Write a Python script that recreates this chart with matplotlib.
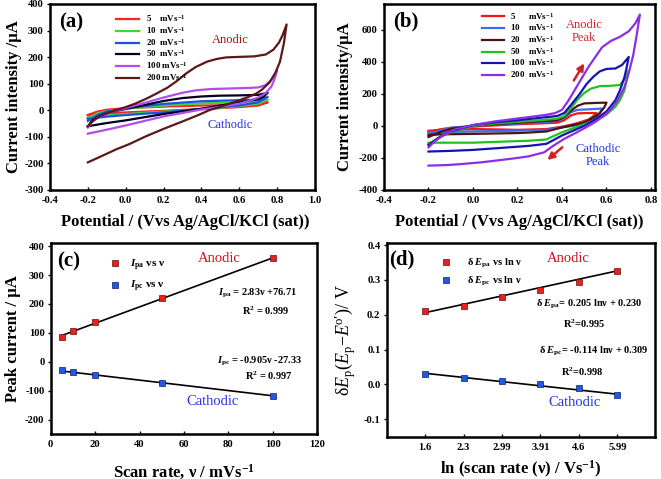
import matplotlib
matplotlib.use('Agg')
from matplotlib.figure import Figure

matplotlib.rcParams['font.family'] = ['Liberation Serif', 'DejaVu Serif']
matplotlib.rcParams['font.weight'] = 'bold'
matplotlib.rcParams['mathtext.fontset'] = 'custom'
matplotlib.rcParams['mathtext.rm'] = 'Liberation Serif:bold'
matplotlib.rcParams['mathtext.bf'] = 'Liberation Serif:bold'
matplotlib.rcParams['mathtext.it'] = 'Liberation Serif:italic:bold'
matplotlib.rcParams['mathtext.sf'] = 'Liberation Serif:weight=normal'
matplotlib.rcParams['mathtext.cal'] = 'Liberation Serif:italic:weight=normal'

# ---------------- panel (a): CV at several scan rates ----------------
a_colors = ['#ff2020', '#3cd43c', '#2050e8', '#00001e', '#b04cf0', '#5c1818']

a_E_5 = [-0.2, -0.15, -0.1, 0.0, 0.2, 0.4, 0.6, 0.7, 0.75, 0.7, 0.6, 0.4, 0.2, 0.0, -0.1, -0.2]
a_I_5 = [-18, -5, 2, 8, 14, 18, 20, 22, 30, 18, 12, 5, -2, -8, -12, -18]
a_E_10 = [-0.2, -0.15, -0.1, 0.0, 0.2, 0.4, 0.6, 0.7, 0.75, 0.7, 0.6, 0.4, 0.2, 0.0, -0.1, -0.2]
a_I_10 = [-30, -12, -3, 6, 18, 26, 30, 32, 40, 25, 15, 4, -5, -14, -20, -28]
a_E_20 = [-0.2, -0.15, -0.1, 0.0, 0.2, 0.4, 0.6, 0.7, 0.75, 0.7, 0.6, 0.4, 0.2, 0.0, -0.1, -0.2]
a_I_20 = [-40, -18, -5, 8, 24, 34, 38, 40, 50, 30, 18, 5, -8, -18, -24, -32]
a_E_50 = [-0.2, -0.18, -0.15, -0.1, 0.0, 0.1, 0.2, 0.3, 0.4, 0.5, 0.6, 0.7, 0.75,
          0.73, 0.7, 0.6, 0.5, 0.4, 0.3, 0.2, 0.1, 0.0, -0.1, -0.2]
a_I_50 = [-62, -40, -25, -10, 5, 20, 35, 46, 52, 55, 56, 58, 66,
          52, 42, 30, 18, 6, -4, -14, -26, -38, -48, -60]
a_E_100 = [-0.2, -0.18, -0.15, -0.1, -0.05, 0.0, 0.1, 0.2, 0.3, 0.37, 0.45, 0.55, 0.65,
           0.7, 0.74, 0.77, 0.8,
           0.785, 0.77, 0.74, 0.7, 0.65, 0.6, 0.5, 0.4, 0.3, 0.2, 0.1, 0.0, -0.1, -0.2]
a_I_100 = [-65, -45, -28, -12, -2, 8, 28, 48, 66, 75, 80, 82, 84,
           86, 95, 115, 150,
           115, 90, 65, 48, 35, 25, 13, 3, -10, -23, -40, -57, -73, -88]
a_E_200 = [-0.2, -0.17, -0.13, -0.07, 0.0, 0.05, 0.11, 0.16, 0.22, 0.27, 0.32, 0.37,
           0.43, 0.48, 0.53, 0.6, 0.68, 0.74, 0.78, 0.81, 0.83, 0.85,
           0.835, 0.815, 0.79, 0.76, 0.72, 0.69, 0.64, 0.6, 0.55, 0.5, 0.44, 0.38,
           0.3, 0.2, 0.1, 0.02, -0.05, -0.12, -0.2]
a_I_200 = [-60, -38, -20, -4, 12, 25, 44, 62, 85, 110, 139, 163,
           183, 193, 199, 201, 203, 210, 228, 255, 285, 323,
           250, 183, 140, 105, 78, 63, 48, 38, 25, 13, 0, -19,
           -42, -70, -100, -127, -147, -170, -196]

# ---------------- panel (b): CV at several scan rates ----------------
b_colors = ['#f81414', '#3a6ef2', '#4e1414', '#22c022', '#1414b4', '#8c2ee6']

b_E_5 = [-0.2, -0.15, -0.1, 0.0, 0.1, 0.2, 0.3, 0.38, 0.41, 0.44, 0.47, 0.51, 0.555,
         0.54, 0.52, 0.48, 0.45, 0.4, 0.33, 0.2, 0.1, 0.0, -0.1, -0.2]
b_I_5 = [-40, -22, -12, -5, 3, 10, 15, 20, 35, 65, 78, 80, 80,
         60, 40, 22, 10, -5, -20, -25, -22, -20, -25, -30]
b_E_10 = [-0.2, -0.15, -0.1, 0.0, 0.1, 0.2, 0.3, 0.38, 0.41, 0.44, 0.47, 0.52, 0.58,
          0.57, 0.55, 0.52, 0.5, 0.45, 0.4, 0.33, 0.2, 0.0, -0.2]
b_I_10 = [-60, -30, -12, 0, 8, 15, 22, 30, 50, 85, 100, 103, 108,
          80, 50, 28, 15, 0, -10, -25, -30, -35, -40]
b_E_20 = [-0.2, -0.15, -0.1, 0.0, 0.1, 0.2, 0.3, 0.38, 0.41, 0.44, 0.47, 0.5, 0.55, 0.6,
          0.59, 0.57, 0.55, 0.52, 0.5, 0.45, 0.4, 0.33, 0.25, 0.2, 0.0, -0.1, -0.2]
b_I_20 = [-70, -40, -18, 0, 10, 20, 28, 35, 55, 95, 125, 140, 143, 145,
          115, 80, 60, 35, 20, 5, -10, -35, -42, -45, -50, -52, -55]
b_E_50 = [-0.2, -0.15, -0.1, 0.0, 0.1, 0.2, 0.3, 0.38, 0.41, 0.44, 0.47, 0.5, 0.53,
          0.57, 0.62, 0.66, 0.68, 0.7,
          0.69, 0.68, 0.66, 0.64, 0.6, 0.55, 0.5, 0.45, 0.4, 0.36, 0.33, 0.25, 0.2,
          0.1, 0.0, -0.2]
b_I_50 = [-115, -70, -40, 0, 15, 25, 35, 45, 60, 110, 165, 205, 232,
          248, 250, 255, 290, 345,
          280, 220, 160, 120, 70, 35, 10, -15, -40, -65, -85, -93, -95,
          -100, -105, -105]
b_E_100 = [-0.2, -0.15, -0.1, 0.0, 0.1, 0.2, 0.3, 0.38, 0.41, 0.44, 0.48, 0.51, 0.54,
           0.57, 0.6, 0.64, 0.67, 0.7,
           0.69, 0.68, 0.66, 0.64, 0.6, 0.55, 0.5, 0.45, 0.4, 0.36, 0.33, 0.25, 0.2,
           0.1, 0.0, -0.1, -0.2]
b_I_100 = [-120, -70, -35, 5, 22, 35, 50, 62, 80, 130, 200, 260, 305,
           340, 355, 358, 380, 430,
           360, 300, 220, 160, 90, 40, 0, -30, -60, -90, -112, -125, -130,
           -140, -150, -156, -160]
b_E_200 = [-0.2, -0.17, -0.13, -0.08, 0.0, 0.1, 0.19, 0.27, 0.33, 0.37, 0.4, 0.43,
           0.46, 0.49, 0.52, 0.55, 0.58, 0.62, 0.66, 0.7, 0.73, 0.75,
           0.735, 0.72, 0.7, 0.68, 0.65, 0.62, 0.59, 0.55, 0.51, 0.46, 0.41, 0.36,
           0.32, 0.25, 0.19, 0.1, 0.04, -0.05, -0.11, -0.2]
b_I_200 = [-134, -95, -55, -22, 5, 28, 44, 58, 69, 80, 100, 160,
           230, 300, 370, 430, 490, 530, 555, 590, 640, 694,
           560, 440, 330, 240, 160, 105, 64, 25, -8, -45, -81, -125,
           -165, -190, -202, -217, -227, -238, -244, -248]

# ---------------- panel (c): peak current vs scan rate ----------------
scan_rate = [5, 10, 20, 50, 100]
I_pa = [86, 105, 137, 220, 358]
I_pc = [-30, -35, -46, -75, -117]
fit_rate = [5, 100]
fit_pa = [90.9, 359.7]
fit_pc = [-31.9, -117.8]

# ---------------- panel (d): peak shift vs ln(scan rate) ----------------
ln_rate = ['1.6', '2.3', '2.99', '3.91', '4.6', '5.99']
dE_pa = [0.210, 0.225, 0.251, 0.272, 0.293, 0.326]
dE_pc = [0.030, 0.019, 0.009, 0.000, -0.011, -0.031]
fit_ln = ['1.6', '5.99']
fit_dpa = [0.206, 0.326]
fit_dpc = [0.032, -0.028]

W, H = 661, 479
fig = Figure(figsize=(W / 100, H / 100), dpi=100)
fig.patch.set_facecolor('white')


def make_axes(l, r, t, b):
    ax = fig.add_axes([l / W, 1 - b / H, (r - l) / W, (b - t) / H])
    for s in ax.spines.values():
        s.set_linewidth(1.8)
    ax.tick_params(axis='x', direction='in', length=2.5, width=1, labelsize=7.6, pad=4.5)
    ax.tick_params(axis='y', direction='out', length=2.5, width=1, labelsize=7.6, pad=2)
    return ax


def set_labels(ax, xl, yl, xpos, ypos, ysize=12, yweight='bold'):
    ax.set_xlabel(xl, fontsize=12, fontweight='bold')
    ax.set_ylabel(yl, fontsize=ysize, fontweight=yweight)
    ax.xaxis.label.set_va('center')
    ax.yaxis.label.set_va('center')
    ax.xaxis.set_label_coords(*xpos)
    ax.yaxis.set_label_coords(*ypos)


def arrow(ax, start, end):
    ax.annotate('', xy=end, xytext=start,
                arrowprops=dict(arrowstyle='-|>', color='#d42020', lw=1.8,
                                mutation_scale=10, shrinkA=0, shrinkB=0))


# (a)
ax = make_axes(50, 315, 4, 190)
a_E = [a_E_5, a_E_10, a_E_20, a_E_50, a_E_100, a_E_200]
a_I = [a_I_5, a_I_10, a_I_20, a_I_50, a_I_100, a_I_200]
a_labels = ['5    mVs$^{-1}$', '10  mVs$^{-1}$', '20  mVs$^{-1}$',
            '50  mVs$^{-1}$', '100 mVs$^{-1}$', '200 mVs$^{-1}$']
for E, I, c, lab in zip(a_E, a_I, a_colors, a_labels):
    ax.plot(E, I, color=c, lw=1.6, label=lab)
ax.set_xlim(-0.4, 1.0)
ax.set_ylim(-300, 400)
ax.set_xticks([-0.4, -0.2, 0.0, 0.2, 0.4, 0.6, 0.8, 1.0])
ax.set_xticklabels(['-0.4', '-0.2', '0.0', '0.2', '0.4', '0.6', '0.8', '1.0'])
ax.set_yticks(range(-300, 401, 100))
ax.set_yticklabels([str(v) for v in range(-300, 401, 100)])
ax.legend(loc='upper left', bbox_to_anchor=(0.25, 0.95), frameon=False,
          fontsize=6.5, handlelength=2.5, handletextpad=0.8,
          labelspacing=0.08, borderpad=0, borderaxespad=0)
ax.text(0.55, 266, 'Anodic', color='#a01515', fontsize=9, fontweight='normal',
        ha='center', va='center')
ax.text(0.55, -57, 'Cathodic', color='#2434e6', fontsize=9, fontweight='normal',
        ha='center', va='center')
ax.text(0.081, 0.903, '(a)', transform=ax.transAxes, fontsize=15,
        fontweight='bold', ha='center', va='center')
set_labels(ax, 'Potential / (Vvs Ag/AgCl/KCl (sat))', 'Current intensity /μA',
           (0.51, -0.17), (-0.135, 0.5))

# (b)
ax = make_axes(384, 655, 4, 190)
b_E = [b_E_5, b_E_10, b_E_20, b_E_50, b_E_100, b_E_200]
b_I = [b_I_5, b_I_10, b_I_20, b_I_50, b_I_100, b_I_200]
b_labels = ['5      mVs$^{-1}$', '10    mVs$^{-1}$', '20    mVs$^{-1}$',
            '50    mVs$^{-1}$', '100  mVs$^{-1}$', '200  mVs$^{-1}$']
for E, I, c, lab in zip(b_E, b_I, b_colors, b_labels):
    ax.plot(E, I, color=c, lw=1.6, label=lab)
ax.set_xlim(-0.4, 0.818)
ax.set_ylim(-400, 760)
ax.set_xticks([-0.4, -0.2, 0.0, 0.2, 0.4, 0.6, 0.8])
ax.set_xticklabels(['-0.4', '-0.2', '0.0', '0.2', '0.4', '0.6', '0.8'])
ax.set_yticks(range(-400, 601, 200))
ax.set_yticklabels([str(v) for v in range(-400, 601, 200)])
ax.legend(loc='upper left', bbox_to_anchor=(0.36, 0.965), frameon=False,
          fontsize=6.5, handlelength=2.5, handletextpad=0.6,
          labelspacing=0.08, borderpad=0, borderaxespad=0)
ax.text(0.5, 590, 'Anodic\nPeak', color='#e0202a', fontsize=9, fontweight='normal',
        ha='center', va='center', linespacing=1.1)
ax.text(0.563, -186, 'Cathodic\nPeak', color='#2434e6', fontsize=9,
        fontweight='normal', ha='center', va='center', linespacing=1.1)
arrow(ax, (0.453, 283), (0.5, 390))
arrow(ax, (0.401, -134), (0.334, -213))
ax.text(0.079, 0.905, '(b)', transform=ax.transAxes, fontsize=15,
        fontweight='bold', ha='center', va='center')
set_labels(ax, 'Potential / (Vvs Ag/AgCl/KCl (sat))', 'Current intensity/μA',
           (0.5, -0.17), (-0.145, 0.5))

# (c)
ax = make_axes(50.7, 317.3, 243.3, 434)
ax.plot(fit_rate, fit_pa, color='black', lw=1.2)
ax.plot(fit_rate, fit_pc, color='black', lw=1.2)
ax.plot(scan_rate, I_pa, 's', color='#e82020', mec='#601010', mew=0.5, ms=5,
        label=r'$I_{\rm pa}$ vs ν', ls='none')
ax.plot(scan_rate, I_pc, 's', color='#2058e8', mec='#102060', mew=0.5, ms=5,
        label=r'$I_{\rm pc}$ vs ν', ls='none')
ax.set_xlim(0, 120)
ax.set_ylim(-250, 410)
ax.set_xticks(range(0, 121, 20))
ax.set_xticklabels([str(v) for v in range(0, 121, 20)])
ax.set_yticks(range(-200, 401, 100))
ax.set_yticklabels([str(v) for v in range(-200, 401, 100)])
ax.legend(loc='upper left', bbox_to_anchor=(0.22, 0.925), frameon=False,
          fontsize=8, handlelength=1.0, handletextpad=0.9,
          labelspacing=0.6, borderpad=0, borderaxespad=0)
ax.text(76, 359, 'Anodic', color='#d8101e', fontsize=10.5, fontweight='normal',
        ha='center', va='center')
ax.text(73, -138, 'Cathodic', color='#2434e6', fontsize=10.5, fontweight='normal',
        ha='center', va='center')
ax.text(93, 238, r'$I_{\rm pa}$ = 2.83ν +76.71', fontsize=7.5, ha='center', va='center')
ax.text(97, 176, r'R$^{2}$ = 0.999', fontsize=7.5, ha='center', va='center')
ax.text(94, 0, r'$I_{\rm pc}$ = -0.905ν -27.33', fontsize=7.5, ha='center', va='center')
ax.text(98, -48, r'R$^{2}$ = 0.997', fontsize=7.5, ha='center', va='center')
ax.text(0.069, 0.904, '(c)', transform=ax.transAxes, fontsize=15,
        fontweight='bold', ha='center', va='center')
set_labels(ax, 'Scan rate, ν / mVs$^{-1}$', 'Peak current / μA',
           (0.5, -0.2), (-0.14, 0.5))

# (d)
ax = make_axes(386.7, 655, 243.3, 436.7)
ax.plot(ln_rate, dE_pa, 's', color='#e82020', mec='#601010', mew=0.5, ms=5,
        label=r'δ $E_{\rm pa}$ vs ln ν', ls='none')
ax.plot(ln_rate, dE_pc, 's', color='#2058e8', mec='#102060', mew=0.5, ms=5,
        label=r'δ $E_{\rm pc}$ vs ln ν', ls='none')
ax.plot(fit_ln, fit_dpa, color='black', lw=1.2, zorder=1)
ax.plot(fit_ln, fit_dpc, color='black', lw=1.2, zorder=1)
ax.set_xlim(-1, 5.98)
ax.set_ylim(-0.15, 0.405)
ax.set_yticks([-0.1, 0.0, 0.1, 0.2, 0.3, 0.4])
ax.set_yticklabels(['-0.1', '0.0', '0.1', '0.2', '0.3', '0.4'])
ax.legend(loc='upper left', bbox_to_anchor=(0.2, 0.93), frameon=False,
          fontsize=7.5, handlelength=1.0, handletextpad=1.6,
          labelspacing=0.5, borderpad=0, borderaxespad=0)
ax.text(3.71, 0.362, 'Anodic', color='#d8101e', fontsize=10.5, fontweight='normal',
        ha='center', va='center')
ax.text(3.88, -0.052, 'Cathodic', color='#2434e6', fontsize=10.5,
        fontweight='normal', ha='center', va='center')
ax.text(4.27, 0.23, r'δ $E_{\rm pa}$= 0.205 lnν + 0.230', fontsize=7.5,
        ha='center', va='center')
ax.text(4.14, 0.173, r'R$^{2}$=0.995', fontsize=7.5, ha='center', va='center')
ax.text(4.4, 0.096, r'δ $E_{\rm pc}$= -0.114 lnν + 0.309', fontsize=7.5,
        ha='center', va='center')
ax.text(4.09, 0.036, r'R$^{2}$=0.998', fontsize=7.5, ha='center', va='center')
ax.text(0.057, 0.914, '(d)', transform=ax.transAxes, fontsize=15,
        fontweight='bold', ha='center', va='center')
set_labels(ax, 'ln (scan rate (ν) / Vs$^{-1}$)',
           r'$\mathsf{δ}\mathcal{E}_{\mathsf{p}}\mathsf{(}\mathcal{E}_{\mathsf{p}}'
           r'\mathsf{-}\mathcal{E}^{\mathsf{o}\prime}\mathsf{)/\ V}$',
           (0.5, -0.17), (-0.155, 0.5), ysize=13, yweight='normal')

fig.savefig('out.png', dpi=100, facecolor='white')
